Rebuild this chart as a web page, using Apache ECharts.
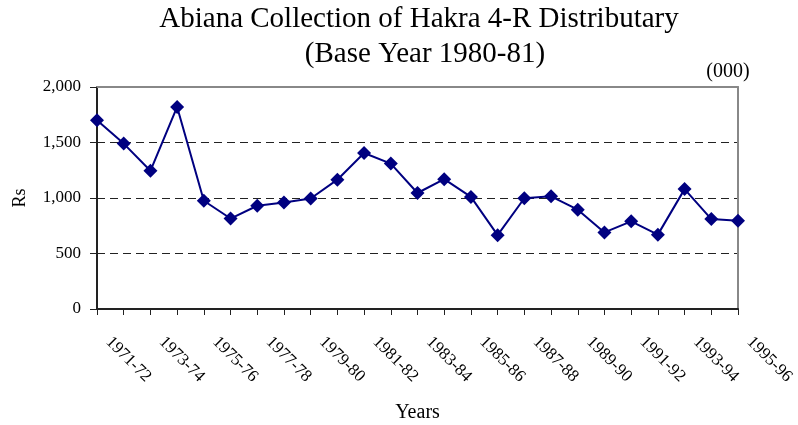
<!DOCTYPE html>
<html>
<head>
<meta charset="utf-8">
<script src="https://cdn.jsdelivr.net/npm/echarts@6/dist/echarts.min.js"></script>
<style>html,body{margin:0;padding:0;background:#fff}#c{width:798px;height:425px}</style>
</head>
<body>
<div id="c"></div>
<script>
const categories = ['1971-72','1972-73','1973-74','1974-75','1975-76','1976-77','1977-78','1978-79','1979-80','1980-81','1981-82','1982-83','1983-84','1984-85','1985-86','1986-87','1987-88','1988-89','1989-90','1990-91','1991-92','1992-93','1993-94','1994-95','1995-96'];
const abiana = [1700,1490,1245,1820,975,815,930,960,995,1165,1405,1310,1045,1170,1010,665,998,1015,895,690,790,670,1080,810,795];
const yTicks = [0,500,1000,1500,2000];
const titleLines = ['Abiana Collection of Hakra 4-R Distributary','(Base Year 1980-81)'];

const font = '"Liberation Serif","Times New Roman",serif';
const chart = echarts.init(document.getElementById('c'), null, {renderer:'canvas'});
chart.setOption({
  animation:false,
  backgroundColor:'#fff',
  graphic:[
    {type:'text',style:{x:419,y:19,text:titleLines[0],font:'29px '+font,fill:'#000',textAlign:'center',textVerticalAlign:'middle'}},
    {type:'text',style:{x:425,y:54,text:titleLines[1],font:'29px '+font,fill:'#000',textAlign:'center',textVerticalAlign:'middle'}},
    {type:'text',style:{x:728,y:72,text:'(000)',font:'20px '+font,fill:'#000',textAlign:'center',textVerticalAlign:'middle'}}
  ],
  grid:{left:97,right:60,top:87,bottom:116,containLabel:false,outerBoundsMode:'none'},
  xAxis:[{
    type:'category',data:categories,boundaryGap:false,position:'bottom',
    name:'Years',nameLocation:'middle',nameGap:94,
    nameTextStyle:{fontFamily:font,fontSize:20,color:'#000'},
    axisLine:{onZero:false,lineStyle:{color:'#222',width:2}},
    axisTick:{show:true,interval:0,length:6,inside:false,lineStyle:{color:'#222',width:1}},
    axisLabel:{interval:1,rotate:-45,margin:19,padding:[0,0,0,16],fontFamily:font,fontSize:17,color:'#000'},
    splitLine:{show:false}
  },{
    type:'category',data:categories,boundaryGap:false,position:'top',
    axisLine:{onZero:false,lineStyle:{color:'#888',width:2}},
    axisTick:{show:false},axisLabel:{show:false},splitLine:{show:false}
  }],
  yAxis:[{
    type:'value',min:yTicks[0],max:yTicks[yTicks.length-1],interval:500,
    name:'Rs',nameLocation:'middle',nameGap:68,
    nameTextStyle:{fontFamily:font,fontSize:18,color:'#000'},
    axisLine:{show:true,onZero:false,lineStyle:{color:'#222',width:2}},
    axisTick:{show:true,length:7,lineStyle:{color:'#222',width:1}},
    axisLabel:{margin:16,fontFamily:font,fontSize:17,color:'#000',formatter:v=>v.toLocaleString('en-US')},
    splitLine:{show:true,lineStyle:{color:['transparent','#222','#222','#222','transparent'],type:[8,5],width:1}}
  },{
    type:'value',min:yTicks[0],max:yTicks[yTicks.length-1],interval:500,position:'right',
    axisLine:{show:true,onZero:false,lineStyle:{color:'#888',width:2}},
    axisTick:{show:false},axisLabel:{show:false},splitLine:{show:false}
  }],
  series:[{
    type:'line',data:abiana,xAxisIndex:0,yAxisIndex:0,
    symbol:'diamond',symbolSize:14,
    lineStyle:{color:'#000080',width:2},
    itemStyle:{color:'#000080'},
    z:5
  }]
});
</script>
</body>
</html>
